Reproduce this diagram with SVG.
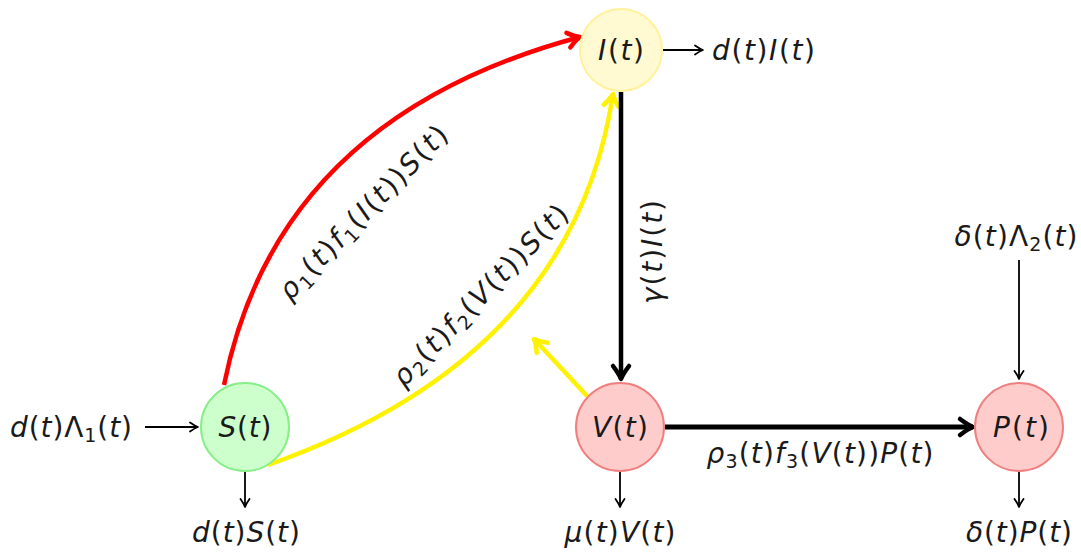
<svg xmlns="http://www.w3.org/2000/svg" width="1081" height="552" viewBox="0 0 1081 552">
<style>
.t{font-family:"DejaVu Sans",sans-serif;font-size:28px;fill:#1a1a1a}
.i{font-style:italic}
.s{font-size:19px}
.n{stroke-width:2}
.thin{fill:none;stroke:#000;stroke-width:1.8}
</style>
<defs>
<marker id="aT" markerUnits="userSpaceOnUse" orient="auto" overflow="visible" refX="0" refY="0" markerWidth="1" markerHeight="1">
<path d="M-8,-4.5 Q-3,-1 0,0 Q-3,1 -8,4.5" fill="none" stroke="#000" stroke-width="1.8" stroke-linecap="round" stroke-linejoin="round"/>
</marker>
<marker id="aK" markerUnits="userSpaceOnUse" orient="auto" overflow="visible" refX="0" refY="0" markerWidth="1" markerHeight="1">
<path d="M-13,-8 Q-5,-2 0,0 Q-5,2 -13,8" fill="none" stroke="#000" stroke-width="4.5" stroke-linecap="round" stroke-linejoin="round"/>
</marker>
<marker id="aR" markerUnits="userSpaceOnUse" orient="auto" overflow="visible" refX="0" refY="0" markerWidth="1" markerHeight="1">
<path d="M-12,-7.5 Q-5,-2 0,0 Q-5,2 -12,7.5" fill="none" stroke="#ff0000" stroke-width="4.5" stroke-linecap="round" stroke-linejoin="round"/>
</marker>
<marker id="aY" markerUnits="userSpaceOnUse" orient="auto" overflow="visible" refX="0" refY="0" markerWidth="1" markerHeight="1">
<path d="M-12,-7.5 Q-5,-2 0,0 Q-5,2 -12,7.5" fill="none" stroke="#fff200" stroke-width="4.5" stroke-linecap="round" stroke-linejoin="round"/>
</marker>
</defs>
<rect width="1081" height="552" fill="#fff"/>
<g id="connectors">
<path d="M224,385 Q277,118 580,37" fill="none" stroke="#ff0000" stroke-width="4.5" marker-end="url(#aR)"/>
<path d="M268,465 Q573,358 613,94" fill="none" stroke="#fff200" stroke-width="4.5" marker-end="url(#aY)"/>
<path d="M588,397 L534,339" fill="none" stroke="#fff200" stroke-width="4.5" marker-end="url(#aY)"/>
<path d="M621,92 L621,379" fill="none" stroke="#000" stroke-width="4.5" marker-end="url(#aK)"/>
<path d="M665,427 L973,427" fill="none" stroke="#000" stroke-width="5" marker-end="url(#aK)"/>
<path class="thin" d="M663,50 L703,50" marker-end="url(#aT)"/>
<path class="thin" d="M145,427 L198,427" marker-end="url(#aT)"/>
<path class="thin" d="M245,472 L245,507" marker-end="url(#aT)"/>
<path class="thin" d="M620,472 L620,507" marker-end="url(#aT)"/>
<path class="thin" d="M1019,472 L1019,507" marker-end="url(#aT)"/>
<path class="thin" d="M1019,260 L1019,379" marker-end="url(#aT)"/>
<text class="t" transform="translate(370,219) rotate(-46)" text-anchor="middle" textLength="230"><tspan class="i">ρ</tspan><tspan class="s" dy="5">1</tspan><tspan dy="-5">(</tspan><tspan class="i">t</tspan>)<tspan class="i">f</tspan><tspan class="s" dy="5">1</tspan><tspan dy="-5">(</tspan><tspan class="i">I</tspan>(<tspan class="i">t</tspan>))<tspan class="i">S</tspan>(<tspan class="i">t</tspan>)</text>
<text class="t" transform="translate(487,302) rotate(-46)" text-anchor="middle" textLength="240"><tspan class="i">ρ</tspan><tspan class="s" dy="5">2</tspan><tspan dy="-5">(</tspan><tspan class="i">t</tspan>)<tspan class="i">f</tspan><tspan class="s" dy="5">2</tspan><tspan dy="-5">(</tspan><tspan class="i">V</tspan>(<tspan class="i">t</tspan>))<tspan class="i">S</tspan>(<tspan class="i">t</tspan>)</text>
<text class="t" transform="translate(662,252) rotate(-90)" text-anchor="middle" textLength="104"><tspan class="i">γ</tspan>(<tspan class="i">t</tspan>)<tspan class="i">I</tspan>(<tspan class="i">t</tspan>)</text>
<text class="t" x="820" y="463" text-anchor="middle" textLength="227"><tspan class="i">ρ</tspan><tspan class="s" dy="5">3</tspan><tspan dy="-5">(</tspan><tspan class="i">t</tspan>)<tspan class="i">f</tspan><tspan class="s" dy="5">3</tspan><tspan dy="-5">(</tspan><tspan class="i">V</tspan>(<tspan class="i">t</tspan>))<tspan class="i">P</tspan>(<tspan class="i">t</tspan>)</text>
<text class="t" x="712" y="60" textLength="103"><tspan class="i">d</tspan>(<tspan class="i">t</tspan>)<tspan class="i">I</tspan>(<tspan class="i">t</tspan>)</text>
<text class="t" x="10" y="437" textLength="122"><tspan class="i">d</tspan>(<tspan class="i">t</tspan>)Λ<tspan class="s" dy="5">1</tspan><tspan dy="-5">(</tspan><tspan class="i">t</tspan>)</text>
<text class="t" x="246" y="542" text-anchor="middle" textLength="108"><tspan class="i">d</tspan>(<tspan class="i">t</tspan>)<tspan class="i">S</tspan>(<tspan class="i">t</tspan>)</text>
<text class="t" x="620" y="542" text-anchor="middle" textLength="111"><tspan class="i">μ</tspan>(<tspan class="i">t</tspan>)<tspan class="i">V</tspan>(<tspan class="i">t</tspan>)</text>
<text class="t" x="1019" y="542" text-anchor="middle" textLength="106"><tspan class="i">δ</tspan>(<tspan class="i">t</tspan>)<tspan class="i">P</tspan>(<tspan class="i">t</tspan>)</text>
<text class="t" x="1016" y="246" text-anchor="middle" textLength="123"><tspan class="i">δ</tspan>(<tspan class="i">t</tspan>)Λ<tspan class="s" dy="5">2</tspan><tspan dy="-5">(</tspan><tspan class="i">t</tspan>)</text>
</g>
<g id="node-I">
<circle class="n" cx="621" cy="50" r="41" fill="#fffad2" stroke="#fff29a"/>
<text class="t" x="621" y="60" text-anchor="middle" textLength="46"><tspan class="i">I</tspan>(<tspan class="i">t</tspan>)</text>
</g>
<g id="node-S">
<circle class="n" cx="245" cy="427" r="44" fill="#ccffcc" stroke="#88ee88"/>
<text class="t" x="245" y="437" text-anchor="middle" textLength="53"><tspan class="i">S</tspan>(<tspan class="i">t</tspan>)</text>
</g>
<g id="node-V">
<circle class="n" cx="620" cy="427" r="44" fill="#ffcccc" stroke="#f08080"/>
<text class="t" x="620" y="437" text-anchor="middle" textLength="56"><tspan class="i">V</tspan>(<tspan class="i">t</tspan>)</text>
</g>
<g id="node-P">
<circle class="n" cx="1019" cy="427" r="44" fill="#ffcccc" stroke="#f08080"/>
<text class="t" x="1021" y="437" text-anchor="middle" textLength="56"><tspan class="i">P</tspan>(<tspan class="i">t</tspan>)</text>
</g>
</svg>
